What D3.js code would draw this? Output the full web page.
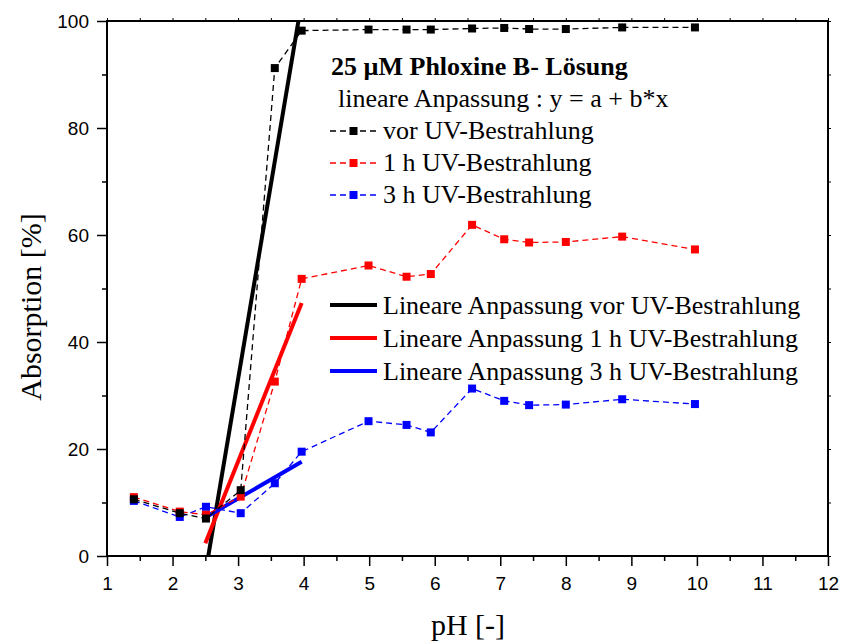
<!DOCTYPE html>
<html>
<head>
<meta charset="utf-8">
<script src="https://cdn.jsdelivr.net/npm/d3@7"></script>
<style>
  body { margin: 0; background: #fff; }
  svg { display: block; }
  .serif { font-family: "Liberation Serif", "Times New Roman", serif; }
</style>
</head>
<body>
<svg id="chart" width="843" height="644"></svg>
<script>
// measured pH values (same for all three series)
var phValues = [1.41, 2.11, 2.51, 3.04, 3.56, 3.97, 4.99, 5.57, 5.94, 6.57, 7.06, 7.44, 8.0, 8.86, 9.97];
var absVor = [10.6, 8.0, 7.0, 12.3, 91.2, 98.2, 98.4, 98.4, 98.4, 98.6, 98.7, 98.5, 98.5, 98.8, 98.8];
var abs1h = [11.0, 8.3, 7.7, 11.1, 32.6, 51.8, 54.3, 52.2, 52.7, 61.9, 59.2, 58.6, 58.7, 59.7, 57.3];
var abs3h = [10.3, 7.3, 9.2, 8.0, 13.6, 19.5, 25.2, 24.5, 23.1, 31.3, 29.0, 28.2, 28.3, 29.3, 28.4];

// linear fits (end points)
var fitPh = [2.5, 3.97];
var fitVor = [-3.3, 103.6];
var fit1h = [2.4, 47.3];
var fit3h = [7.2, 17.6];

var seriesColors = ["#000000", "#ff0000", "#0000ff"];
var seriesNames = ["vor UV-Bestrahlung", "1 h UV-Bestrahlung", "3 h UV-Bestrahlung"];
var fitNames = ["Lineare Anpassung vor UV-Bestrahlung", "Lineare Anpassung 1 h UV-Bestrahlung", "Lineare Anpassung 3 h UV-Bestrahlung"];
var xTicks = [1, 2, 3, 4, 5, 6, 7, 8, 9, 10, 11, 12];
var yTicks = [0, 20, 40, 60, 80, 100];

var svg = d3.select("#chart");
var pLeft = 107, pRight = 828, pTop = 21, pBottom = 556;

var x = d3.scaleLinear().domain([1, 12]).range([pLeft, pRight]);
var y = d3.scaleLinear().domain([0, 100]).range([pBottom, pTop]);

svg.append("clipPath").attr("id", "plotclip")
  .append("rect").attr("x", pLeft).attr("y", pTop)
  .attr("width", pRight - pLeft).attr("height", pBottom - pTop);

function styleAxis(g, w) {
  g.select(".domain").remove();
  g.selectAll("line").attr("stroke-width", w);
  g.selectAll("text")
    .attr("font-family", "'Liberation Sans', Arial, sans-serif")
    .attr("font-size", 19)
    .attr("fill", "#000");
}

// minor ticks
var xMinor = d3.range(1.5, 12, 1);
var yMinor = d3.range(10, 100, 20);

svg.append("g").attr("transform", "translate(0," + pBottom + ")")
  .call(d3.axisBottom(x).tickValues(xMinor).tickSize(5).tickFormat(""))
  .call(styleAxis, 1.5);
svg.append("g").attr("transform", "translate(" + pLeft + ",0)")
  .call(d3.axisLeft(y).tickValues(yMinor).tickSize(5).tickFormat(""))
  .call(styleAxis, 1.5);

// top / right small ticks
svg.append("g").attr("transform", "translate(0," + pTop + ")")
  .call(d3.axisTop(x).tickValues(d3.range(1, 12.01, 0.5)).tickSize(3).tickFormat(""))
  .call(styleAxis, 1);
svg.append("g").attr("transform", "translate(" + pRight + ",0)")
  .call(d3.axisRight(y).tickValues(d3.range(0, 100.01, 10)).tickSize(3).tickFormat(""))
  .call(styleAxis, 1);

// main axes
svg.append("g").attr("transform", "translate(0," + pBottom + ")")
  .call(d3.axisBottom(x).tickValues(xTicks).tickSize(10).tickPadding(11).tickFormat(d3.format("d")))
  .call(styleAxis, 1.5);
svg.append("g").attr("transform", "translate(" + pLeft + ",0)")
  .call(d3.axisLeft(y).tickValues(yTicks).tickSize(10).tickPadding(8).tickFormat(d3.format("d")))
  .call(styleAxis, 1.5);

// frame
svg.append("rect")
  .attr("x", pLeft).attr("y", pTop)
  .attr("width", pRight - pLeft).attr("height", pBottom - pTop)
  .attr("fill", "none").attr("stroke", "#000").attr("stroke-width", 2);

var plot = svg.append("g").attr("clip-path", "url(#plotclip)");

var line = d3.line().x(function(d) { return x(d[0]); }).y(function(d) { return y(d[1]); });

var dataSeries = [absVor, abs1h, abs3h];
var fitSeries = [fitVor, fit1h, fit3h];

// fits
fitSeries.forEach(function(vals, i) {
  plot.append("path")
    .datum(fitPh.map(function(p, j) { return [p, vals[j]]; }))
    .attr("d", line)
    .attr("fill", "none")
    .attr("stroke", seriesColors[i])
    .attr("stroke-width", 4);
});

// measured data, blue first so black ends on top
[2, 1, 0].forEach(function(i) {
  var pts = phValues.map(function(p, j) { return [p, dataSeries[i][j]]; });
  var g = svg.append("g");
  g.append("path")
    .datum(pts)
    .attr("d", line)
    .attr("fill", "none")
    .attr("stroke", seriesColors[i])
    .attr("stroke-width", 1.3)
    .attr("stroke-dasharray", "6,4");
  g.selectAll("rect").data(pts).enter().append("rect")
    .attr("x", function(d) { return x(d[0]) - 4; })
    .attr("y", function(d) { return y(d[1]) - 4; })
    .attr("width", 8).attr("height", 8)
    .attr("fill", seriesColors[i]);
});

// legend 1
svg.append("text").attr("class", "serif")
  .attr("x", 331).attr("y", 75)
  .attr("font-size", 26).attr("font-weight", "bold")
  .text("25 \u00b5M Phloxine B- L\u00f6sung");
svg.append("text").attr("class", "serif")
  .attr("x", 338).attr("y", 107)
  .attr("font-size", 26)
  .text("lineare Anpassung : y = a + b*x");

seriesNames.forEach(function(name, i) {
  var ly = 131 + i * 32;
  svg.append("line")
    .attr("x1", 330).attr("x2", 377).attr("y1", ly).attr("y2", ly)
    .attr("stroke", seriesColors[i]).attr("stroke-width", 1.3)
    .attr("stroke-dasharray", "6,4");
  svg.append("rect")
    .attr("x", 349.5).attr("y", ly - 4).attr("width", 8).attr("height", 8)
    .attr("fill", seriesColors[i]);
  svg.append("text").attr("class", "serif")
    .attr("x", 383).attr("y", ly + 8)
    .attr("font-size", 26)
    .text(name);
});

// legend 2
fitNames.forEach(function(name, i) {
  var ly = 305 + i * 33;
  svg.append("line")
    .attr("x1", 330).attr("x2", 377).attr("y1", ly).attr("y2", ly)
    .attr("stroke", seriesColors[i]).attr("stroke-width", 4);
  svg.append("text").attr("class", "serif")
    .attr("x", 383).attr("y", ly + 9)
    .attr("font-size", 26)
    .text(name);
});

// axis titles
svg.append("text").attr("class", "serif")
  .attr("x", 468).attr("y", 635)
  .attr("text-anchor", "middle")
  .attr("font-size", 30)
  .text("pH [-]");
svg.append("text").attr("class", "serif")
  .attr("transform", "translate(41,307) rotate(-90)")
  .attr("text-anchor", "middle")
  .attr("font-size", 30)
  .text("Absorption [%]");
</script>
</body>
</html>
